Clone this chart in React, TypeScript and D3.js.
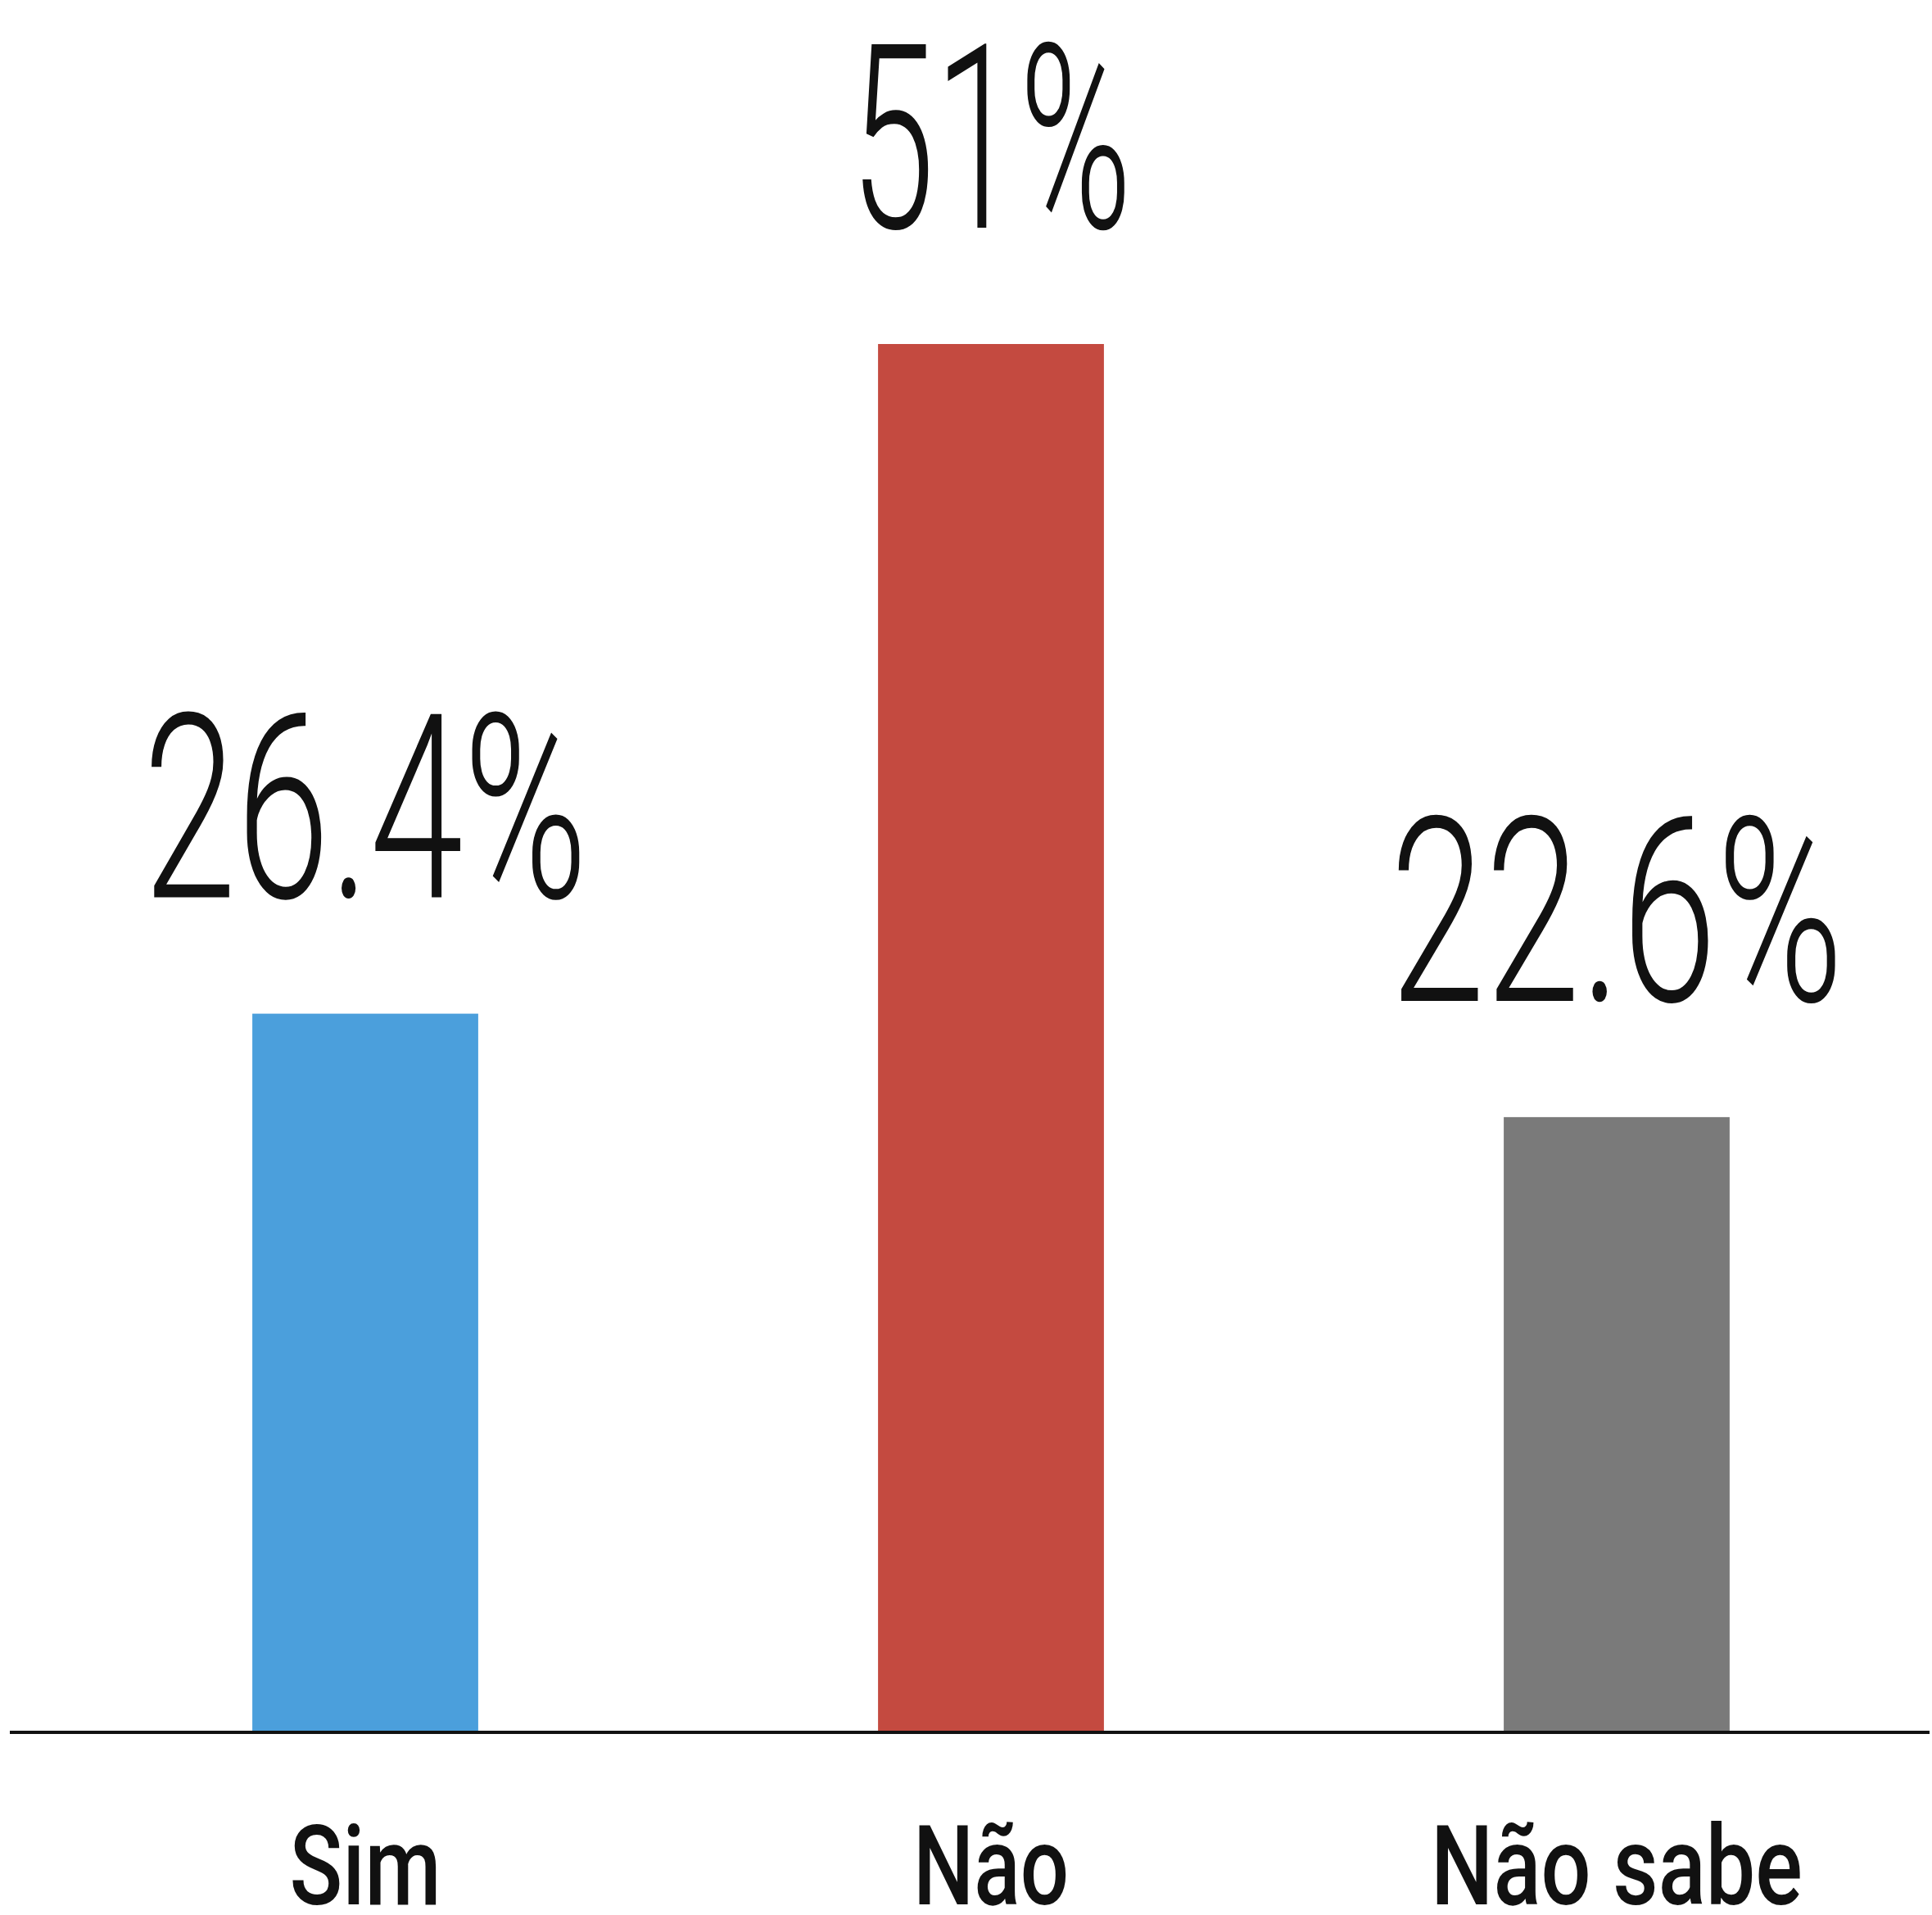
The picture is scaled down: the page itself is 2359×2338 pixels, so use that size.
import React, { useEffect, useRef } from "react";
import * as d3 from "d3";

const categories = ["Sim", "Não", "Não sabe"];
const values = [26.4, 51, 22.6];
const valueLabels = ["26.4%", "51%", "22.6%"];
const colors = ["#4b9fdc", "#c44a40", "#7a7a7a"];
const valueLabelWidths = [543, 344, 554];
const categoryLabelWidths = [185, 190, 454];

const W = 2359;
const H = 2338;
const baseY = 2115;

export default function App() {
  const ref = useRef<SVGSVGElement | null>(null);

  useEffect(() => {
    const svg = d3.select(ref.current);
    svg.selectAll("*").remove();

    const x = d3
      .scaleBand<string>()
      .domain(categories)
      .range([64, 2356])
      .paddingInner(0.639)
      .paddingOuter(0.3195);
    const y = d3.scaleLinear().domain([0, 51]).range([baseY, 420]);

    svg.append("rect").attr("x", 0).attr("y", 0).attr("width", W).attr("height", H).attr("fill", "#fff");

    const data = categories.map((c, i) => ({
      c,
      v: values[i],
      label: valueLabels[i],
      color: colors[i],
      vw: valueLabelWidths[i],
      cw: categoryLabelWidths[i],
    }));

    svg
      .append("g")
      .selectAll("rect")
      .data(data)
      .join("rect")
      .attr("x", (d) => x(d.c)!)
      .attr("y", (d) => y(d.v))
      .attr("width", x.bandwidth())
      .attr("height", (d) => baseY - y(d.v))
      .attr("fill", (d) => d.color);

    const fit = (
      g: d3.Selection<SVGGElement, unknown, null, undefined>,
      text: string,
      cx: number,
      by: number,
      target: number,
      size: number,
      weight: number
    ) => {
      const gg = g.append("g");
      const t = gg
        .append("text")
        .attr("x", 0)
        .attr("y", 0)
        .attr("text-anchor", "middle")
        .attr("font-family", "Roboto, 'Noto Sans', sans-serif")
        .attr("font-weight", weight)
        .attr("font-size", size)
        .attr("fill", "#111")
        .text(text);
      const node = t.node() as SVGTextElement;
      const w = node.getBBox().width || target;
      const sx = target / w;
      gg.attr("transform", `translate(${cx},${by}) scale(${sx},1)`);
    };

    const labels = svg.append("g");
    data.forEach((d) => {
      const cx = x(d.c)! + x.bandwidth() / 2;
      fit(labels, d.label, cx, y(d.v) - 142, d.vw, 315, 300);
      fit(labels, d.c, cx, 2325, d.cw, 136, 500);
    });

    svg
      .append("line")
      .attr("x1", 12)
      .attr("x2", 2356)
      .attr("y1", baseY)
      .attr("y2", baseY)
      .attr("stroke", "#111")
      .attr("stroke-width", 4);
  }, []);

  return (
    <svg
      ref={ref}
      width={W}
      height={H}
      viewBox={`0 0 ${W} ${H}`}
      style={{ position: "absolute", left: 0, top: 0, background: "#fff" }}
    />
  );
}
